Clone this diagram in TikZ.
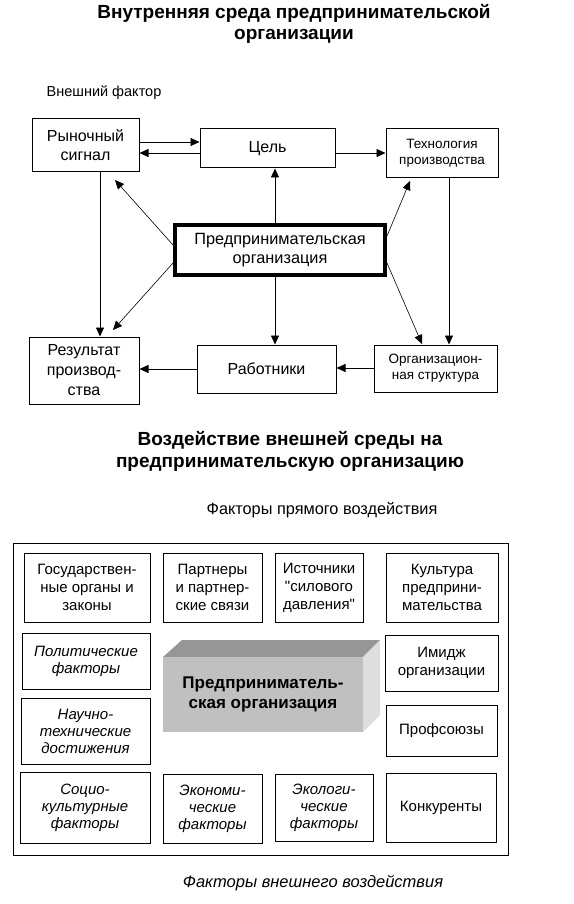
\documentclass[tikz,border=0pt]{standalone}
\usepackage{fontspec}
\setmainfont{Liberation Sans}[Ligatures=TeXOff]
\usetikzlibrary{arrows.meta}
\newcommand\myfs[2]{\fontsize{#1}{#2}\selectfont}
\definecolor{topgray}{HTML}{969696}
\definecolor{frontgray}{HTML}{C0C0C0}
\definecolor{sidegray}{HTML}{DEDEDE}
\begin{document}
\begin{tikzpicture}[x=1pt,y=-1pt,
  bx/.style={draw, line width=1pt, inner sep=0pt, align=center, font=\myfs{15}{18}},
  tbx/.style={bx, font=\myfs{16}{19}},
  sbx/.style={bx, font=\myfs{13.5}{16}},
  ibx/.style={bx, font=\myfs{15}{17}\itshape},
  arr/.style={-{Triangle[length=9pt,width=8pt]}, line width=0.8pt},
  lbl/.style={inner sep=0pt, align=center}]
\useasboundingbox (0,0) rectangle (573,904);

% ---------- titles ----------
\node[lbl, font=\myfs{19}{21}\bfseries] (title1) at (294,23.5) {Внутренняя среда предпринимательской\\организации};
\node[lbl, font=\myfs{14.5}{16}] (ext) at (104,93) {Внешний фактор};

% ---------- top diagram ----------
\node[tbx, minimum width=107pt, minimum height=53pt] (rs) at (85.5,145.5) {Рыночный\\сигнал};
\node[tbx, minimum width=135pt, minimum height=39pt] (cel) at (267.5,148.5) {Цель};
\node[sbx, minimum width=112pt, minimum height=49pt] (tech) at (442,153.5) {Технология\\производства};
\node[tbx, draw, line width=4pt, minimum width=210pt, minimum height=50pt, font=\myfs{16.3}{19}] (org) at (280,250) {Предпринимательская\\организация};
\node[tbx, minimum width=110pt, minimum height=67pt, font=\myfs{16}{20}] (res) at (84,370.5) {Результат\\производ-\\ства};
\node[tbx, minimum width=139pt, minimum height=48pt] (rab) at (266.5,369) {Работники};
\node[sbx, minimum width=123pt, minimum height=47pt] (ostr) at (435.5,368.5) {Организацион-\\ная структура};

\coordinate (x100) at (100,0);
\coordinate (x275) at (275,0);
\coordinate (x449) at (449,0);
\coordinate (y142) at (0,142);
\coordinate (y153) at (0,153);
\coordinate (y368) at (0,368);
\coordinate (y369) at (0,369);
\coordinate (t1) at (115,180);
\coordinate (t2) at (113,330);
\coordinate (t3) at (410,181);
\coordinate (t4) at (422,344);

\draw[arr] (rs.east |- y142) -- (cel.west |- y142);
\draw[arr] (cel.west |- y153) -- (rs.east |- y153);
\draw[arr] (cel.east |- y153) -- (tech.west |- y153);
\draw[arr] (org.north -| x275) -- (cel.south -| x275);
\draw[arr] (org.south -| x275) -- (rab.north -| x275);
\draw[arr] (rs.south -| x100) -- (res.north -| x100);
\draw[arr] (tech.south -| x449) -- (ostr.north -| x449);
\draw[arr] (rab.west |- y369) -- (res.east |- y369);
\draw[arr] (ostr.west |- y368) -- (rab.east |- y368);
\draw[arr, line width=0.6pt] ([yshift=5pt]org.west) -- (t1);
\draw[arr, line width=0.6pt] ([yshift=-13pt]org.west) -- (t2);
\draw[arr, line width=0.6pt] ([yshift=14pt]org.east) -- (t3);
\draw[arr, line width=0.6pt] ([yshift=-13pt]org.east) -- (t4);

% ---------- second part ----------
\node[lbl, font=\myfs{19}{22}\bfseries] (title2) at (290,451.5) {Воздействие внешней среды на\\предпринимательскую организацию};
\node[lbl, font=\myfs{16.3}{17}] (direct) at (322,510) {Факторы прямого воздействия};

\node[draw, line width=1pt, inner sep=0pt, minimum width=495pt, minimum height=312pt] (frame) at (260.5,699) {};

\node[bx, minimum width=126pt, minimum height=69pt] (g1) at (87,587.5) {Государствен-\\ные органы и\\законы};
\node[bx, minimum width=99pt, minimum height=69pt] (g2) at (212.5,587.5) {Партнеры\\и партнер-\\ские связи};
\node[bx, minimum width=88pt, minimum height=69pt] (g3) at (319,587.5) {Источники\\"силового\\давления"};
\node[bx, minimum width=112pt, minimum height=69pt] (g4) at (442,587.5) {Культура\\предприни-\\мательства};
\node[ibx, minimum width=128pt, minimum height=56pt] (p1) at (86,661) {Политические\\факторы};
\node[bx, minimum width=113pt, minimum height=56pt] (p2) at (441.5,663) {Имидж\\организации};
\node[ibx, minimum width=129pt, minimum height=66pt] (n1) at (85.5,731) {Научно-\\технические\\достижения};
\node[bx, minimum width=111pt, minimum height=51pt] (pr) at (441.5,730.5) {Профсоюзы};
\node[ibx, minimum width=130pt, minimum height=71pt] (s1) at (85,807.5) {Социо-\\культурные\\факторы};
\node[ibx, minimum width=99pt, minimum height=69pt] (e1) at (212.5,808.5) {Экономи-\\ческие\\факторы};
\node[ibx, minimum width=98pt, minimum height=67pt] (e2) at (324,807.5) {Экологи-\\ческие\\факторы};
\node[bx, minimum width=110pt, minimum height=69pt] (k) at (441,807.5) {Конкуренты};

% 3D block
\fill[topgray] (163,657) -- (182,640) -- (380,640) -- (363,657) -- cycle;
\fill[sidegray] (363,657) -- (380,640) -- (380,715) -- (363,732) -- cycle;
\fill[frontgray] (163,657) rectangle (363,732);
\node[lbl, font=\myfs{17}{20}\bfseries] (ent) at (263,694.5) {Предприниматель-\\ская организация};

\node[lbl, font=\myfs{16.5}{19}\itshape] (indirect) at (313,883) {Факторы внешнего воздействия};
\end{tikzpicture}
\end{document}
